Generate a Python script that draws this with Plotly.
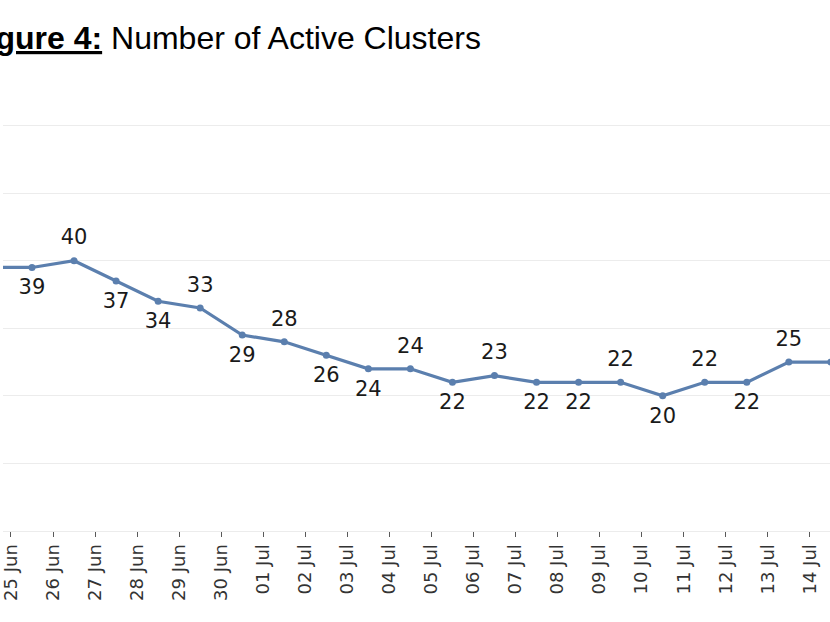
import plotly.graph_objects as go

dates = ["2020-06-24", "2020-06-25", "2020-06-26", "2020-06-27", "2020-06-28",
         "2020-06-29", "2020-06-30", "2020-07-01", "2020-07-02", "2020-07-03",
         "2020-07-04", "2020-07-05", "2020-07-06", "2020-07-07", "2020-07-08",
         "2020-07-09", "2020-07-10", "2020-07-11", "2020-07-12", "2020-07-13",
         "2020-07-14"]
active_clusters = [39, 39, 40, 37, 34, 33, 29, 28, 26, 24, 24, 22, 23, 22, 22, 22,
                   20, 22, 22, 25, 25]
# data labels as shown in the (cropped) reference; last one lies outside the view
data_labels = [str(v) for v in active_clusters[:-1]] + [""]
label_pos = ["top center", "bottom center", "top center", "bottom center", "bottom center",
             "top center", "bottom center", "top center", "bottom center", "bottom center",
             "top center", "bottom center", "top center", "bottom center", "bottom center",
             "top center", "bottom center", "top center", "bottom center", "top center",
             "bottom center"]
label_colors = ["#3fa7b5"] + ["#1a1a1a"] * 20

tick_dates = dates[1:]
tick_text = ["25 Jun", "26 Jun", "27 Jun", "28 Jun", "29 Jun", "30 Jun", "01 Jul",
             "02 Jul", "03 Jul", "04 Jul", "05 Jul", "06 Jul", "07 Jul", "08 Jul",
             "09 Jul", "10 Jul", "11 Jul", "12 Jul", "13 Jul", "14 Jul"]

fig = go.Figure()
fig.add_trace(go.Scatter(
    x=dates, y=active_clusters,
    xperiod=86400000, xperiodalignment="middle",
    mode="lines+markers",
    line=dict(color="#5b7fae", width=3.2),
    marker=dict(color="#5b7fae", size=7),
    cliponaxis=True,
    showlegend=False, hoverinfo="skip",
))
fig.add_trace(go.Scatter(
    x=dates, y=active_clusters,
    xperiod=86400000, xperiodalignment="middle",
    mode="markers+text",
    marker=dict(color="rgba(0,0,0,0)", size=16),
    text=data_labels,
    textposition=label_pos,
    textfont=dict(family="DejaVu Sans", size=21, color=label_colors),
    cliponaxis=True,
    showlegend=False, hoverinfo="skip",
))

fig.update_layout(
    width=830, height=622,
    margin=dict(l=0, r=0, t=58, b=91),
    paper_bgcolor="white", plot_bgcolor="white",
    xaxis=dict(
        type="date",
        range=["2020-06-24 19:27", "2020-07-14 11:31"],
        tickvals=tick_dates, ticktext=tick_text,
        tickangle=-90,
        tickfont=dict(family="DejaVu Sans", size=18, color="#333333"),
        ticks="outside", ticklen=5, tickcolor="#595959", tickwidth=1,
        ticklabeloverflow="allow",
        showgrid=False, showline=False, zeroline=False,
    ),
    yaxis=dict(
        range=[0, 70], dtick=10,
        showgrid=True, gridcolor="#ececec", gridwidth=1,
        showticklabels=False, zeroline=True, zerolinecolor="#ececec",
        zerolinewidth=1, showline=False,
    ),
    annotations=[dict(
        text="<b><u>Figure 4:</u></b> Number of Active Clusters",
        xref="paper", yref="paper", x=-38 / 830, y=1,
        xanchor="left", yanchor="bottom", showarrow=False,
        font=dict(family="Liberation Sans", size=32, color="#000000"),
    )],
)

fig.write_html("out.html", config={"displayModeBar": False},
               post_script="document.body.style.margin='0';")
